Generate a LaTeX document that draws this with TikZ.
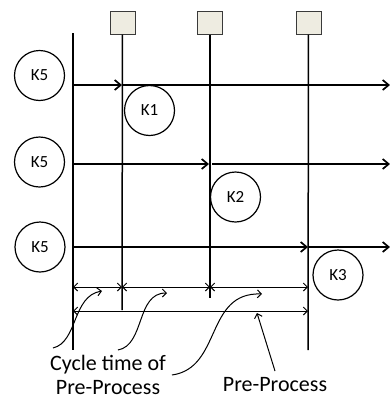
\documentclass[tikz,border=0pt]{standalone}
\usepackage{fontspec}
\setmainfont{Carlito}
\usetikzlibrary{arrows.meta}
\definecolor{boxfill}{HTML}{EEECE1}
\definecolor{boxline}{HTML}{3A3A3A}
\begin{document}
\begin{tikzpicture}[x=1pt,y=-1pt,
  circ/.style={draw,circle,line width=1.2pt,minimum size=50pt,inner sep=0pt,font=\fontsize{17}{17}\selectfont},
  sbox/.style={draw=boxline,fill=boxfill,line width=1pt,minimum width=25pt,minimum height=23pt,inner sep=0pt},
  vline/.style={line width=1.5pt},
  hline/.style={line width=1.7pt,-{Straight Barb[length=6pt,width=10pt]}},
  dim/.style={line width=1pt,{Straight Barb[length=4pt,width=8pt]}-{Straight Barb[length=4pt,width=8pt]}},
  curv/.style={line width=1pt,-{Straight Barb[length=4pt,width=8pt]}},
  lbl/.style={font=\fontsize{22}{24}\selectfont,align=center,inner sep=0pt}]
\useasboundingbox (0,0) rectangle (390,400);
% boxes
\node[sbox] (b1) at (122.5,22.5) {};
\node[sbox] (b2) at (210,22.5) {};
\node[sbox] (b3) at (308.5,22.5) {};
% vertical lines
\coordinate (L0t) at (73,33);
\coordinate (L0b) at (73,350);
\coordinate (L1b) at (122,310);
\coordinate (L2b) at (210,298);
\coordinate (L3b) at (308,350);
\draw[line width=1.8pt] (L0t) -- (L0b);
\draw[vline] (b1.south) -- (L1b);
\draw[vline] (b2.south) -- (L2b);
\draw[vline] (b3.south) -- (L3b);
% row coordinates
\coordinate (r1a) at (73,85);
\coordinate (r1b) at (122,85);
\coordinate (r1e) at (390,85);
\coordinate (r2a) at (73,164);
\coordinate (r2b) at (209,164);
\coordinate (r2c) at (212,164);
\coordinate (r2e) at (390,164);
\coordinate (r3a) at (73,247);
\coordinate (r3b) at (308,247);
\coordinate (r3e) at (390,247);
\draw[hline] (r1a) -- (r1b);
\draw[hline] (r1b) -- (r1e);
\draw[hline] (r2a) -- (r2b);
\draw[hline] (r2c) -- (r2e);
\draw[hline] (r3a) -- (r3b);
\draw[hline] (r3b) -- (r3e);
% circles
\node[circ] (k5a) at (39.5,75.5) {K5};
\node[circ] (k5b) at (39.5,162) {K5};
\node[circ] (k5c) at (40,247) {K5};
\node[circ] (k1) at (149.5,110.5) {K1};
\node[circ] (k2) at (235.5,197) {K2};
\node[circ] (k3) at (338,275) {K3};
% dimension lines
\coordinate (d0) at (73,287);
\coordinate (d1) at (122,287);
\coordinate (d2) at (210,287);
\coordinate (d3) at (308,287);
\coordinate (p0) at (73,311);
\coordinate (p1) at (308,311);
\draw[dim] (d0) -- (d1);
\draw[dim] (d1) -- (d2);
\draw[dim] (d2) -- (d3);
\draw[dim] (p0) -- (p1);
% labels
\node[lbl] (cyc) at (108,375) {Cycle time of\\Pre-Process};
\node[lbl] (pp) at (275,385) {Pre-Process};
% pointer curves
\coordinate (c1s) at (53,348);
\coordinate (c1e) at (102,291);
\coordinate (c2s) at (118,350);
\coordinate (c2e) at (167,293);
\coordinate (c3s) at (172,375);
\coordinate (c3e) at (262,294);
\coordinate (s1s) at (275,371);
\coordinate (s1e) at (257,313);
\draw[curv] (c1s) .. controls (78,342) and (72,296) .. (c1e);
\draw[curv] (c2s) .. controls (145,345) and (136,293) .. (c2e);
\draw[curv] (c3s) .. controls (222,368) and (205,292) .. (c3e);
\draw[curv] (s1s) -- (s1e);
\end{tikzpicture}
\end{document}
